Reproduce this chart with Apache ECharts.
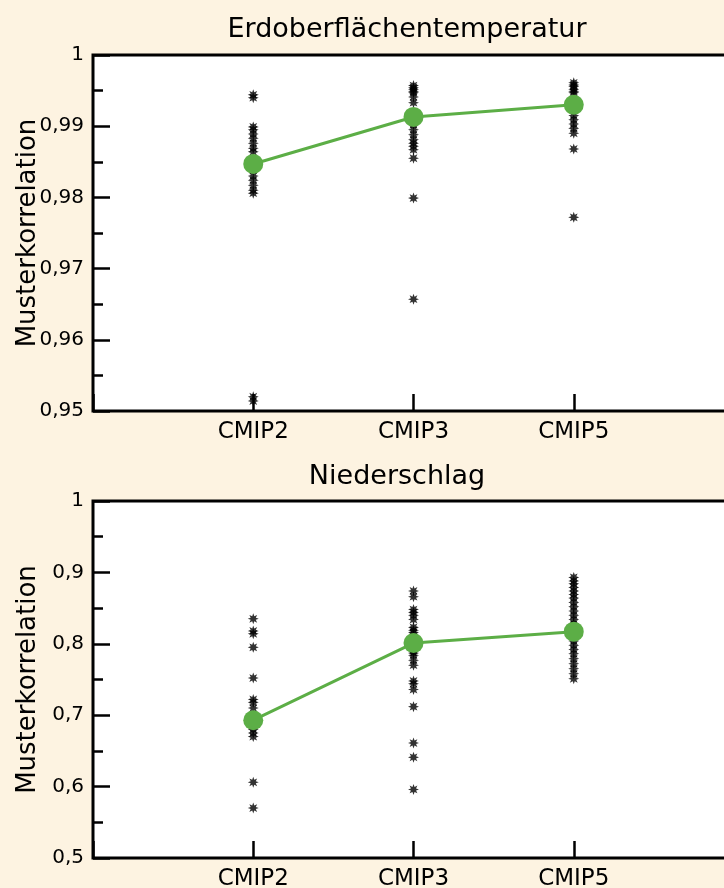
<!DOCTYPE html>
<html>
<head>
<meta charset="utf-8">
<script src="https://cdn.jsdelivr.net/npm/echarts@6/dist/echarts.min.js"></script>
<style>
html,body{margin:0;padding:0;background:#fdf3e1;}
#chart{width:724px;height:888px;}
</style>
</head>
<body>
<div id="chart"></div>
<script>
// ---- data ----
const panelTitles = ['Erdoberflächentemperatur', 'Niederschlag'];
const yAxisName = 'Musterkorrelation';
const categories = ['CMIP2', 'CMIP3', 'CMIP5'];
const categoryPositions = [2, 3, 4];

const tempCMIP2 = [0.9944, 0.9940, 0.9899, 0.9895, 0.9889, 0.9883, 0.9876, 0.9869, 0.9864, 0.9838, 0.9830, 0.9824, 0.9817, 0.9810, 0.9806, 0.9520, 0.9514];
const tempCMIP3 = [0.9957, 0.9954, 0.9952, 0.9949, 0.9947, 0.9941, 0.9933, 0.9902, 0.9895, 0.9888, 0.9881, 0.9876, 0.9872, 0.9867, 0.9855, 0.9799, 0.9657];
const tempCMIP5 = [0.9961, 0.9958, 0.9956, 0.9952, 0.9949, 0.9947, 0.9915, 0.9909, 0.9903, 0.9897, 0.9890, 0.9868, 0.9772];
const tempMean = [0.9847, 0.9913, 0.9930];

const precipCMIP2 = [0.835, 0.818, 0.814, 0.795, 0.752, 0.722, 0.718, 0.710, 0.680, 0.675, 0.670, 0.606, 0.570];
const precipCMIP3 = [0.874, 0.866, 0.848, 0.844, 0.840, 0.834, 0.823, 0.819, 0.816, 0.810, 0.791, 0.787, 0.784, 0.777, 0.770, 0.748, 0.744, 0.736, 0.712, 0.661, 0.641, 0.596];
const precipCMIP5 = [0.893, 0.888, 0.884, 0.879, 0.874, 0.869, 0.864, 0.858, 0.852, 0.846, 0.840, 0.834, 0.828, 0.822, 0.810, 0.804, 0.798, 0.792, 0.786, 0.779, 0.772, 0.765, 0.758, 0.751];
const precipMean = [0.693, 0.801, 0.817];

const tempTicks = {min: 0.95, max: 1, interval: 0.01};
const precipTicks = {min: 0.5, max: 1, interval: 0.1};

// ---- styling helpers ----
const FONT = '"DejaVu Sans", "Open Sans", sans-serif';
const GREEN = '#5cae46';

function starPath() {
  const pts = [];
  const n = 8, ro = 10, ri = 5;
  for (let i = 0; i < n * 2; i++) {
    const r = i % 2 === 0 ? ro : ri;
    const a = Math.PI * i / n - Math.PI / 2;
    pts.push((r * Math.cos(a)).toFixed(2) + ' ' + (r * Math.sin(a)).toFixed(2));
  }
  return 'path://M' + pts.join(' L') + ' Z';
}
const STAR = starPath();

function fmtComma(v) {
  if (Math.abs(v - 1) < 1e-9) return '1';
  const s = Math.round(v * 100) % 10 === 0 ? v.toFixed(1) : v.toFixed(2);
  return s.replace('.', ',');
}

function starSeries(values, catIdx, axisIdx) {
  return {
    type: 'scatter',
    xAxisIndex: axisIdx, yAxisIndex: axisIdx,
    data: values.map(v => [categoryPositions[catIdx], v]),
    symbol: STAR, symbolSize: 11,
    itemStyle: {color: '#000'},
    silent: true, z: 3
  };
}

const grids = [
  {left: 93, top: 55, width: 641, height: 356},
  {left: 93, top: 501, width: 641, height: 357}
].map(g => Object.assign(g, {show: true, backgroundColor: '#fff', borderColor: '#000', borderWidth: 3, containLabel: false, outerBoundsMode: 'none'}));

function xAxis(gi) {
  return {
    type: 'value', gridIndex: gi, min: 1, max: 5, interval: 1,
    axisLine: {show: false},
    axisTick: {show: true, inside: true, length: 17, lineStyle: {color: '#000', width: 2.5}},
    axisLabel: {
      margin: 10, color: '#000', fontFamily: FONT, fontSize: 23,
      formatter: v => { const i = categoryPositions.indexOf(Math.round(v)); return i >= 0 ? categories[i] : ''; }
    },
    splitLine: {show: false}
  };
}
function yAxis(gi, t) {
  return {
    type: 'value', gridIndex: gi, min: t.min, max: t.max, interval: t.interval,
    name: yAxisName, nameLocation: 'middle', nameRotate: 90, nameGap: 52, nameMoveOverlap: false,
    nameTextStyle: {color: '#000', fontFamily: FONT, fontSize: 26},
    axisLine: {show: false},
    axisTick: {show: true, inside: true, length: 17, lineStyle: {color: '#000', width: 2.5}},
    minorTick: {show: true, splitNumber: 2, length: 10, lineStyle: {color: '#000', width: 2.5}},
    axisLabel: {margin: 9, color: '#000', fontFamily: FONT, fontSize: 20, formatter: fmtComma},
    splitLine: {show: false}
  };
}
function meanSeries(values, axisIdx) {
  return {
    type: 'line', xAxisIndex: axisIdx, yAxisIndex: axisIdx,
    data: values.map((v, i) => [categoryPositions[i], v]),
    symbol: 'circle', symbolSize: 20, showSymbol: true,
    lineStyle: {color: GREEN, width: 3},
    itemStyle: {color: GREEN},
    silent: true, z: 5
  };
}

const chart = echarts.init(document.getElementById('chart'), null, {renderer: 'canvas'});
chart.setOption({
  backgroundColor: '#fdf3e1',
  animation: false,
  title: [
    {text: panelTitles[0], left: 402, top: 11, textAlign: 'center', textStyle: {color: '#000', fontFamily: FONT, fontSize: 27, fontWeight: 'normal'}},
    {text: panelTitles[1], left: 392, top: 458, textAlign: 'center', textStyle: {color: '#000', fontFamily: FONT, fontSize: 27, fontWeight: 'normal'}}
  ],
  grid: grids,
  xAxis: [xAxis(0), xAxis(1)],
  yAxis: [yAxis(0, tempTicks), yAxis(1, precipTicks)],
  series: [
    starSeries(tempCMIP2, 0, 0), starSeries(tempCMIP3, 1, 0), starSeries(tempCMIP5, 2, 0),
    meanSeries(tempMean, 0),
    starSeries(precipCMIP2, 0, 1), starSeries(precipCMIP3, 1, 1), starSeries(precipCMIP5, 2, 1),
    meanSeries(precipMean, 1)
  ]
});
</script>
</body>
</html>
